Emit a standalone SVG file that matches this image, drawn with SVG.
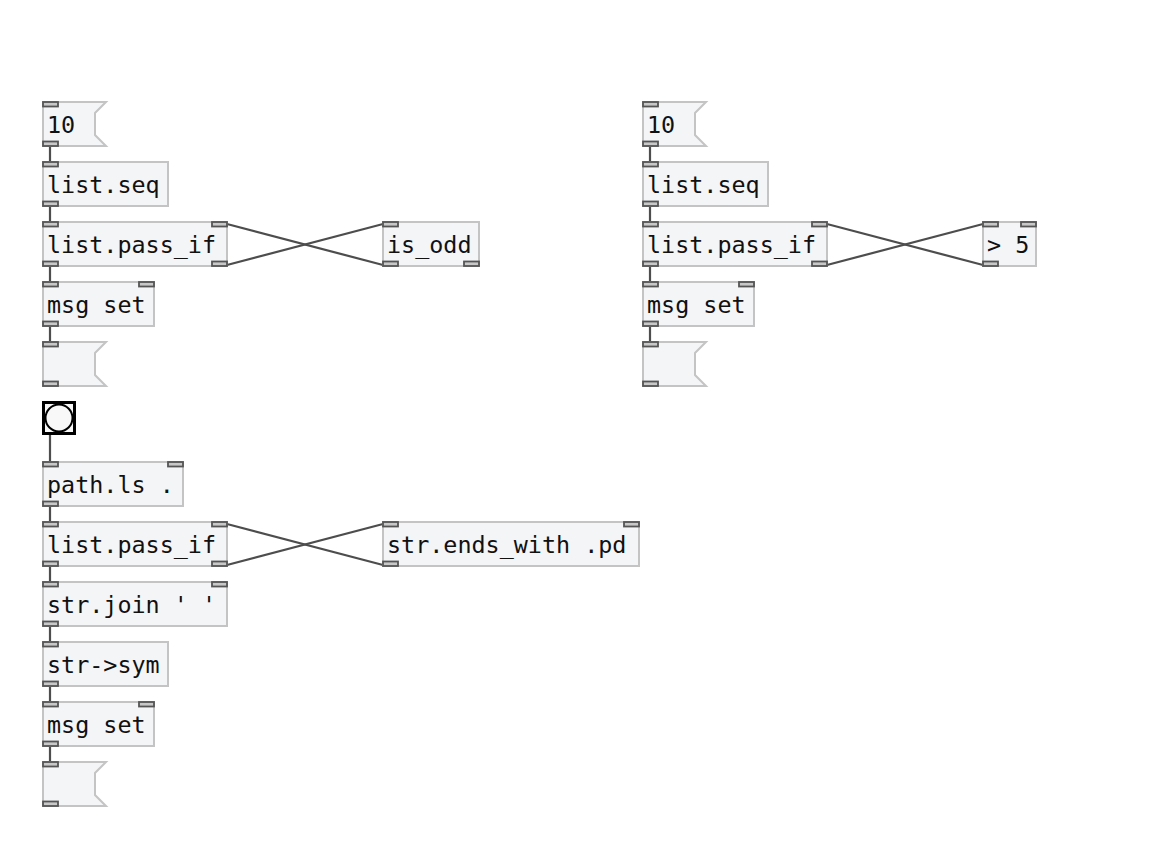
<svg xmlns="http://www.w3.org/2000/svg" width="1167" height="867" viewBox="0 0 1167 867">
<style>
.box{fill:#f4f5f7;stroke:#c4c4c4;stroke-width:2}
.io{fill:#c8c8c8;stroke:#555555;stroke-width:1.8}
.t{font-family:"DejaVu Sans Mono","Liberation Mono",monospace;font-size:23.4px;fill:#111}
.c{stroke:#4d4d4d;stroke-width:2.2;fill:none}
</style>
<rect width="1167" height="867" fill="#ffffff"/>
<g id="connectors">
<line class="c" x1="50" y1="146" x2="50" y2="162"/>
<line class="c" x1="50" y1="206" x2="50" y2="222"/>
<line class="c" x1="50" y1="266" x2="50" y2="282"/>
<line class="c" x1="50" y1="326" x2="50" y2="342"/>
<line class="c" x1="227" y1="224" x2="383" y2="265"/>
<line class="c" x1="227" y1="265" x2="383" y2="224"/>
<line class="c" x1="50" y1="434" x2="50" y2="462"/>
<line class="c" x1="50" y1="506" x2="50" y2="522"/>
<line class="c" x1="50" y1="566" x2="50" y2="582"/>
<line class="c" x1="227" y1="524" x2="383" y2="565"/>
<line class="c" x1="227" y1="565" x2="383" y2="524"/>
<line class="c" x1="50" y1="626" x2="50" y2="642"/>
<line class="c" x1="50" y1="686" x2="50" y2="702"/>
<line class="c" x1="50" y1="746" x2="50" y2="762"/>
<line class="c" x1="650" y1="146" x2="650" y2="162"/>
<line class="c" x1="650" y1="206" x2="650" y2="222"/>
<line class="c" x1="650" y1="266" x2="650" y2="282"/>
<line class="c" x1="650" y1="326" x2="650" y2="342"/>
<line class="c" x1="827" y1="224" x2="983" y2="265"/>
<line class="c" x1="827" y1="265" x2="983" y2="224"/>
</g>

<g id="msg10a">
<polygon class="box" points="43,102 106,102 95,113 95,135 106,146 43,146"/>
<text class="t" x="47" y="133">10</text>
<rect class="io" x="43" y="102" width="15" height="4.5"/>
<rect class="io" x="43" y="141.5" width="15" height="4.5"/>
</g>
<g id="listseqa">
<rect class="box" x="43" y="162" width="125" height="44"/>
<text class="t" x="47" y="193">list.seq</text>
<rect class="io" x="43" y="162" width="15" height="4.5"/>
<rect class="io" x="43" y="201.5" width="15" height="4.5"/>
</g>
<g id="passifa">
<rect class="box" x="43" y="222" width="184" height="44"/>
<text class="t" x="47" y="253">list.pass_if</text>
<rect class="io" x="43" y="222" width="15" height="4.5"/>
<rect class="io" x="212" y="222" width="15" height="4.5"/>
<rect class="io" x="43" y="261.5" width="15" height="4.5"/>
<rect class="io" x="212" y="261.5" width="15" height="4.5"/>
</g>
<g id="isodd">
<rect class="box" x="383" y="222" width="96" height="44"/>
<text class="t" x="387" y="253">is_odd</text>
<rect class="io" x="383" y="222" width="15" height="4.5"/>
<rect class="io" x="383" y="261.5" width="15" height="4.5"/>
<rect class="io" x="464" y="261.5" width="15" height="4.5"/>
</g>
<g id="msgseta">
<rect class="box" x="43" y="282" width="111" height="44"/>
<text class="t" x="47" y="313">msg set</text>
<rect class="io" x="43" y="282" width="15" height="4.5"/>
<rect class="io" x="139" y="282" width="15" height="4.5"/>
<rect class="io" x="43" y="321.5" width="15" height="4.5"/>
</g>
<g id="outa">
<polygon class="box" points="43,342 106,342 95,353 95,375 106,386 43,386"/>
<rect class="io" x="43" y="342" width="15" height="4.5"/>
<rect class="io" x="43" y="381.5" width="15" height="4.5"/>
</g>

<g id="bang">
<rect x="43.5" y="402.5" width="31" height="31" fill="#f8f8f8" stroke="#000" stroke-width="3"/>
<circle cx="59" cy="418" r="13.5" fill="none" stroke="#000" stroke-width="2"/>
</g>
<g id="pathls">
<rect class="box" x="43" y="462" width="140" height="44"/>
<text class="t" x="47" y="493">path.ls .</text>
<rect class="io" x="43" y="462" width="15" height="4.5"/>
<rect class="io" x="168" y="462" width="15" height="4.5"/>
<rect class="io" x="43" y="501.5" width="15" height="4.5"/>
</g>
<g id="passifb">
<rect class="box" x="43" y="522" width="184" height="44"/>
<text class="t" x="47" y="553">list.pass_if</text>
<rect class="io" x="43" y="522" width="15" height="4.5"/>
<rect class="io" x="212" y="522" width="15" height="4.5"/>
<rect class="io" x="43" y="561.5" width="15" height="4.5"/>
<rect class="io" x="212" y="561.5" width="15" height="4.5"/>
</g>
<g id="endswith">
<rect class="box" x="383" y="522" width="256" height="44"/>
<text class="t" x="387" y="553">str.ends_with .pd</text>
<rect class="io" x="383" y="522" width="15" height="4.5"/>
<rect class="io" x="624" y="522" width="15" height="4.5"/>
<rect class="io" x="383" y="561.5" width="15" height="4.5"/>
</g>
<g id="strjoin">
<rect class="box" x="43" y="582" width="184" height="44"/>
<text class="t" x="47" y="613">str.join ' '</text>
<rect class="io" x="43" y="582" width="15" height="4.5"/>
<rect class="io" x="212" y="582" width="15" height="4.5"/>
<rect class="io" x="43" y="621.5" width="15" height="4.5"/>
</g>
<g id="strsym">
<rect class="box" x="43" y="642" width="125" height="44"/>
<text class="t" x="47" y="673">str-&gt;sym</text>
<rect class="io" x="43" y="642" width="15" height="4.5"/>
<rect class="io" x="43" y="681.5" width="15" height="4.5"/>
</g>
<g id="msgsetb">
<rect class="box" x="43" y="702" width="111" height="44"/>
<text class="t" x="47" y="733">msg set</text>
<rect class="io" x="43" y="702" width="15" height="4.5"/>
<rect class="io" x="139" y="702" width="15" height="4.5"/>
<rect class="io" x="43" y="741.5" width="15" height="4.5"/>
</g>
<g id="outb">
<polygon class="box" points="43,762 106,762 95,773 95,795 106,806 43,806"/>
<rect class="io" x="43" y="762" width="15" height="4.5"/>
<rect class="io" x="43" y="801.5" width="15" height="4.5"/>
</g>

<g id="msg10c">
<polygon class="box" points="643,102 706,102 695,113 695,135 706,146 643,146"/>
<text class="t" x="647" y="133">10</text>
<rect class="io" x="643" y="102" width="15" height="4.5"/>
<rect class="io" x="643" y="141.5" width="15" height="4.5"/>
</g>
<g id="listseqc">
<rect class="box" x="643" y="162" width="125" height="44"/>
<text class="t" x="647" y="193">list.seq</text>
<rect class="io" x="643" y="162" width="15" height="4.5"/>
<rect class="io" x="643" y="201.5" width="15" height="4.5"/>
</g>
<g id="passifc">
<rect class="box" x="643" y="222" width="184" height="44"/>
<text class="t" x="647" y="253">list.pass_if</text>
<rect class="io" x="643" y="222" width="15" height="4.5"/>
<rect class="io" x="812" y="222" width="15" height="4.5"/>
<rect class="io" x="643" y="261.5" width="15" height="4.5"/>
<rect class="io" x="812" y="261.5" width="15" height="4.5"/>
</g>
<g id="gt5">
<rect class="box" x="983" y="222" width="53" height="44"/>
<text class="t" x="987" y="253">&gt; 5</text>
<rect class="io" x="983" y="222" width="15" height="4.5"/>
<rect class="io" x="1021" y="222" width="15" height="4.5"/>
<rect class="io" x="983" y="261.5" width="15" height="4.5"/>
</g>
<g id="msgsetc">
<rect class="box" x="643" y="282" width="111" height="44"/>
<text class="t" x="647" y="313">msg set</text>
<rect class="io" x="643" y="282" width="15" height="4.5"/>
<rect class="io" x="739" y="282" width="15" height="4.5"/>
<rect class="io" x="643" y="321.5" width="15" height="4.5"/>
</g>
<g id="outc">
<polygon class="box" points="643,342 706,342 695,353 695,375 706,386 643,386"/>
<rect class="io" x="643" y="342" width="15" height="4.5"/>
<rect class="io" x="643" y="381.5" width="15" height="4.5"/>
</g>
</svg>
